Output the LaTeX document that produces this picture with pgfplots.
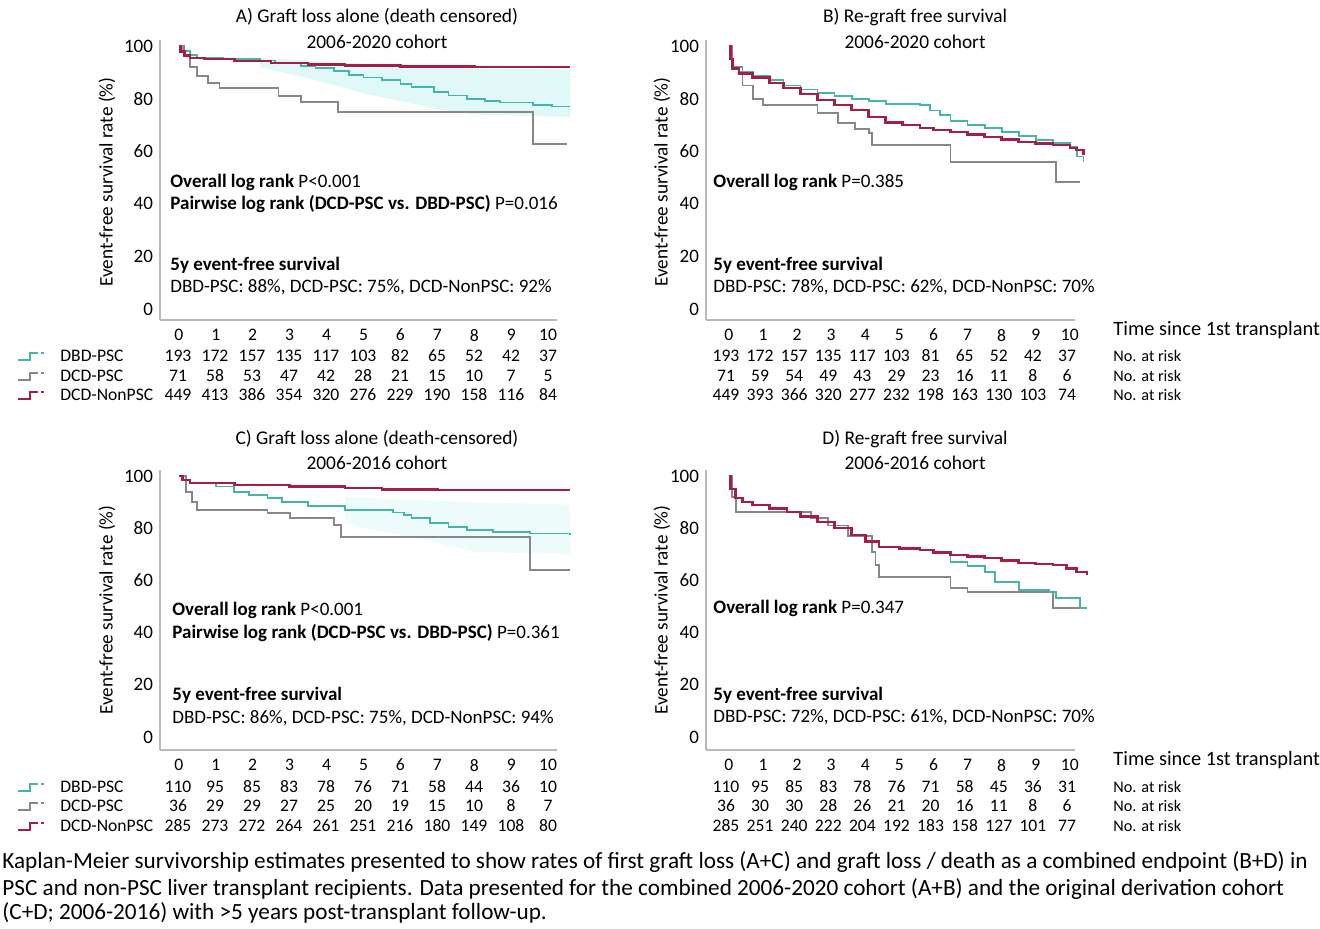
\documentclass[border=0pt]{standalone}
\usepackage{pgfplots}
\pgfplotsset{compat=1.18}
\usepackage{fontspec}
\setmainfont{Carlito}
\definecolor{cteal}{RGB}{70,180,168}
\definecolor{cgray}{RGB}{135,135,135}
\definecolor{cred}{RGB}{165,30,70}
\definecolor{cband}{RGB}{225,248,248}
\newcommand\ttl{\fontsize{9.7}{11}\selectfont}
\newcommand\ann{\fontsize{9.5}{11}\selectfont}
\newcommand\rsk{\fontsize{8.8}{10}\selectfont}
\newcommand\capf{\fontsize{11.6}{13}\selectfont}
\pgfplotsset{
  km/.style={scale only axis, clip=false, height=140pt,
    axis x line*=bottom, axis y line*=left,
    axis line style={gray!55, line width=0.6pt},
    major tick length=0pt,
    ytick={0,20,40,60,80,100}, xtick={0,...,10},
    /pgf/number format/assume math mode=true,
    yticklabel style={font=\fontsize{9.5}{11}\selectfont, xshift=0pt},
    xticklabel style={font=\rsk, yshift=-1pt},
    ymax=102.3},
  kmA/.style={km, width=198.5pt, xmin=-0.51, xmax=10.24},
  kmB/.style={km, width=184.5pt, xmin=-0.67, xmax=10.15},
  lt/.style={cteal, line width=0.9pt, const plot},
  lg/.style={cgray, line width=0.9pt, const plot},
  lr/.style={cred, line width=1.3pt, const plot},
}
\begin{document}
\begin{tikzpicture}
% ---------- A ----------
\begin{axis}[kmA, at={(80pt,-160pt)}, anchor=south west, ymin=-4.2]
\addplot[fill=cband, draw=none] coordinates {(2.2,95.5)(4,94)(6,92.5)(8,91.5)(10.6,91)(10.6,73)(8,74)(7,76)(6,79)(5,82)(4,86)(2.2,92)};
\addplot[lg] coordinates {(0,100)(0.15,96)(0.3,92)(0.5,88.6)(0.8,86)(1.1,84)(2.7,81)(3.3,78.7)(4.3,75)(9.6,62.7)(10.5,62.7)};
\addplot[lt] coordinates {(0,100)(0.1,98)(0.3,96.5)(0.5,95.4)(1.2,95)(2.2,94.5)(2.6,93.5)(3.3,92.5)(3.7,91.6)(4.2,90.5)(4.6,89)(5,88)(5.5,87)(6,85.5)(6.3,84.4)(6.9,82.5)(7.3,81.2)(7.8,80)(8.3,79.2)(8.7,78.5)(9.6,77.6)(10.1,77)(10.6,77)};
\addplot[lr] coordinates {(0,100)(0.05,98)(0.15,96.5)(0.3,95.5)(0.7,95)(1.5,94.3)(2.5,93.5)(3.5,93)(4.5,92.6)(6,92.3)(8,92)(10.6,92)};
\end{axis}
% ---------- B ----------
\begin{axis}[kmB, at={(353pt,-160pt)}, anchor=south west, ymin=-4.2]
\addplot[lg] coordinates {(0,100)(0.1,92)(0.4,85)(0.7,80)(1,77.6)(2.6,74.5)(3.2,70.7)(3.7,68.5)(4.1,66.9)(4.2,62.4)(6.5,56)(9.6,48.3)(10.3,48.3)};
\addplot[lt] coordinates {(0,100)(0.05,95)(0.1,92)(0.3,90)(0.7,88.5)(1.2,87)(1.6,85)(2.1,83.5)(2.6,82)(3.1,81)(3.6,80)(4.1,79)(4.6,78)(5.6,77.5)(5.9,75.5)(6.2,73.8)(6.5,71.5)(7,70)(7.5,68.8)(8,67.2)(8.5,65.8)(9,64.3)(9.5,63)(10,61.6)(10.2,58)(10.4,56)};
\addplot[lr] coordinates {(0,100)(0.05,95)(0.1,91.5)(0.3,89.5)(0.7,88)(1.2,86)(1.6,84)(2.1,81.8)(2.6,79.5)(3.1,77.5)(3.6,75.7)(4.1,73)(4.6,71)(5.1,70)(5.6,68.8)(6,68)(6.5,67.3)(7,66.4)(7.5,65.4)(8,64.4)(8.5,63.5)(9,62.9)(9.5,62.4)(10,61.2)(10.2,60.5)(10.4,58.5)};
\end{axis}
% ---------- C ----------
\begin{axis}[kmA, at={(80pt,-375pt)}, anchor=south west, ymin=-5]
\addplot[fill=cband, draw=none, opacity=0.6] coordinates {(4.5,92)(6,91)(8,90)(10.6,89)(10.6,70)(8,71)(6.5,76)(5,80)(4.5,82)};
\addplot[lg] coordinates {(0,100)(0.2,94)(0.35,90)(0.5,87)(2.4,85.8)(3,84)(4.2,81.2)(4.4,76.6)(9.5,64)(10.6,64)};
\addplot[lt] coordinates {(0,100)(0.1,98.5)(0.3,97.3)(1,96)(1.5,94)(1.9,92.7)(2.4,91.5)(2.8,90)(3.5,88.5)(4.5,87)(5.8,86)(6.1,85)(6.3,83.9)(6.8,82)(7.3,80.5)(7.8,79.3)(8.5,78.5)(9.5,78)(10.6,77.4)};
\addplot[lr] coordinates {(0,100)(0.1,98.5)(0.3,97.3)(1.5,96.5)(3,96)(4.5,95.4)(5.5,94.8)(7,94.6)(10.6,94.6)};
\end{axis}
% ---------- D ----------
\begin{axis}[kmB, at={(353pt,-375pt)}, anchor=south west, ymin=-5]
\addplot[lg] coordinates {(0,100)(0.1,92)(0.2,86.2)(2.4,84)(2.9,81)(3.5,77)(4.2,70.9)(4.3,65.9)(4.4,61.3)(6.5,57)(7,55.6)(9.5,49.4)(10.4,49.4)};
\addplot[lt] coordinates {(0,100)(0.05,95)(0.2,91.6)(0.4,90)(0.7,88.9)(1.2,87.5)(1.7,86.2)(2.1,84.5)(2.6,82.4)(3.1,80)(3.6,77.4)(4,75)(4.4,72.8)(5,72.2)(5.6,71.6)(6,70.6)(6.5,67)(7,65.5)(7.5,63.2)(7.8,59.4)(8.5,56.3)(9.4,55.6)(9.6,53.3)(10.3,49.4)(10.5,49.4)};
\addplot[lr] coordinates {(0,100)(0.05,95)(0.2,91.6)(0.4,90)(0.7,88.9)(1.2,87.5)(1.7,86.2)(2.1,84.5)(2.6,82.4)(3.1,80)(3.6,77.4)(4,75)(4.4,72.8)(5,72.2)(5.6,71.6)(6,70.6)(6.5,69.7)(7,69.2)(7.5,68.6)(8,67.6)(8.5,66.7)(9,66.3)(9.5,65.9)(9.9,64.5)(10.2,63.2)(10.5,62)};
\end{axis}
% ---------- text ----------
\begin{scope}[x=0.5pt,y=-0.5pt]
\path[use as bounding box] (0,0) rectangle (1320,929);
% titles
\node[font=\ttl] at (377,17) {A) Graft loss alone (death censored)};
\node[font=\ttl] at (377,42) {2006-2020 cohort};
\node[font=\ttl] at (915,17) {B) Re-graft free survival};
\node[font=\ttl] at (915,42) {2006-2020 cohort};
\node[font=\ttl] at (377,439) {C) Graft loss alone (death-censored)};
\node[font=\ttl] at (377,463) {2006-2016 cohort};
\node[font=\ttl] at (915,439) {D) Re-graft free survival};
\node[font=\ttl] at (915,463) {2006-2016 cohort};
% y labels
\foreach \xx/\yy in {107/182, 662/182, 107/610, 662/610}
  \node[font=\fontsize{9.6}{11}\selectfont, rotate=90] at (\xx,\yy) {Event-free survival rate (\%)};
% annotations
\begin{scope}[every node/.style={font=\ann, anchor=west, inner sep=0pt}]
\node at (170,182) {\textbf{Overall log rank} P<0.001};
\node at (170,204) {\textbf{Pairwise log rank (DCD-PSC vs. DBD-PSC)} P=0.016};
\node at (170,265) {\textbf{5y event-free survival}};
\node at (170,287) {DBD-PSC: 88\%, DCD-PSC: 75\%, DCD-NonPSC: 92\%};
\node at (713,182) {\textbf{Overall log rank} P=0.385};
\node at (713,265) {\textbf{5y event-free survival}};
\node at (713,287) {DBD-PSC: 78\%, DCD-PSC: 62\%, DCD-NonPSC: 70\%};
\node at (172,610) {\textbf{Overall log rank} P<0.001};
\node at (172,633) {\textbf{Pairwise log rank (DCD-PSC vs. DBD-PSC)} P=0.361};
\node at (172,695) {\textbf{5y event-free survival}};
\node at (172,718) {DBD-PSC: 86\%, DCD-PSC: 75\%, DCD-NonPSC: 94\%};
\node at (713,608) {\textbf{Overall log rank} P=0.347};
\node at (713,695) {\textbf{5y event-free survival}};
\node at (713,717) {DBD-PSC: 72\%, DCD-PSC: 61\%, DCD-NonPSC: 70\%};
\end{scope}
% risk tables
\begin{scope}[every node/.style={font=\rsk, inner sep=0pt}]
\foreach \n [count=\i from 0] in {193,172,157,135,117,103,82,65,52,42,37} \node at ({178+37*\i},356) {\n};
\foreach \n [count=\i from 0] in {71,58,53,47,42,28,21,15,10,7,5} \node at ({178+37*\i},376) {\n};
\foreach \n [count=\i from 0] in {449,413,386,354,320,276,229,190,158,116,84} \node at ({178+37*\i},395) {\n};
\foreach \n [count=\i from 0] in {193,172,157,135,117,103,81,65,52,42,37} \node at ({726+34.1*\i},356) {\n};
\foreach \n [count=\i from 0] in {71,59,54,49,43,29,23,16,11,8,6} \node at ({726+34.1*\i},376) {\n};
\foreach \n [count=\i from 0] in {449,393,366,320,277,232,198,163,130,103,74} \node at ({726+34.1*\i},395) {\n};
\foreach \n [count=\i from 0] in {110,95,85,83,78,76,71,58,44,36,10} \node at ({178+37*\i},787) {\n};
\foreach \n [count=\i from 0] in {36,29,29,27,25,20,19,15,10,8,7} \node at ({178+37*\i},806) {\n};
\foreach \n [count=\i from 0] in {285,273,272,264,261,251,216,180,149,108,80} \node at ({178+37*\i},826) {\n};
\foreach \n [count=\i from 0] in {110,95,85,83,78,76,71,58,45,36,31} \node at ({726+34.1*\i},787) {\n};
\foreach \n [count=\i from 0] in {36,30,30,28,26,21,20,16,11,8,6} \node at ({726+34.1*\i},806) {\n};
\foreach \n [count=\i from 0] in {285,251,240,222,204,192,183,158,127,101,77} \node at ({726+34.1*\i},826) {\n};
% left labels with step icons
\foreach \yy/\lab/\col in {356/DBD-PSC/cteal, 376/DCD-PSC/cgray, 395/DCD-NonPSC/cred, 787/DBD-PSC/cteal, 806/DCD-PSC/cgray, 826/DCD-NonPSC/cred}{
  \node[anchor=west] at (60,\yy) {\lab};
  \draw[\col, line width=0.8pt] (18,\yy+4) -- (30,\yy+4) -- (30,\yy-3) -- (38,\yy-3) (41,\yy-3) -- (44,\yy-3);
}
% right labels
\node[anchor=west, font=\fontsize{10.2}{12}\selectfont] at (1113,330) {Time since 1st transplant};
\node[anchor=west, font=\fontsize{10.2}{12}\selectfont] at (1113,760) {Time since 1st transplant};
\foreach \yy in {356,376,395,787,806,826} \node[anchor=west, font=\fontsize{8.1}{9}\selectfont] at (1113,\yy) {No. at risk};
\end{scope}
% caption
\begin{scope}[every node/.style={font=\capf, anchor=west, inner sep=0pt}]
\node at (2,862) {Kaplan-Meier survivorship estimates presented to show rates of first graft loss (A+C) and graft loss / death as a combined endpoint (B+D) in};
\node at (2,889) {PSC and non-PSC liver transplant recipients. Data presented for the combined 2006-2020 cohort (A+B) and the original derivation cohort};
\node at (2,913) {(C+D; 2006-2016) with >5 years post-transplant follow-up.};
\end{scope}
\end{scope}
\end{tikzpicture}
\end{document}
